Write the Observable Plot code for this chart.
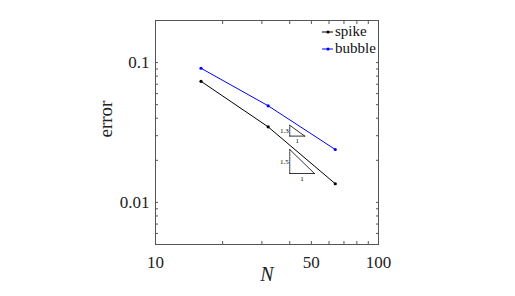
<!DOCTYPE html>
<html><head><meta charset="utf-8">
<script src="https://cdn.jsdelivr.net/npm/d3@7"></script>
<script src="https://cdn.jsdelivr.net/npm/@observablehq/plot@0.6"></script>
<style>
body{margin:0;background:#fff;}
#wrap{position:relative;width:515px;height:296px;}
#legend{position:absolute;left:320px;top:23px;font-family:'Liberation Serif',serif;font-size:15px;line-height:17px;color:#111;}
#legend div{display:flex;align-items:center;height:17px;}
#legend svg{margin-right:1px;}
</style>
</head><body>
<div id="wrap"><div id="legend"></div></div>
<script>
const N = [16, 32, 64];
const spike = [0.0735, 0.0347, 0.0136];
const bubble = [0.0911, 0.0491, 0.0239];
const seriesNames = ["spike", "bubble"];
const seriesColors = ["#000000", "#0000ff"];
const xTicks = [10,20,30,40,50,60,70,80,90,100];
const xLabels = [10, 50, 100];
const yTicks = [0.005,0.006,0.007,0.008,0.009,0.01,0.02,0.03,0.04,0.05,0.06,0.07,0.08,0.09,0.1,0.2];
const yLabels = [0.01, 0.1];
const tri1 = {x0: 40, x1: 46.7, yb: 0.0298, yt: 0.0356, label: "1.3"};
const tri2 = {x0: 40, x1: 51.6, yb: 0.0161, yt: 0.0239, label: "1.5"};

const rows = [];
N.forEach((n,i)=>{rows.push({N:n, err:spike[i], s:"spike"}); rows.push({N:n, err:bubble[i], s:"bubble"});});
const font = "'Liberation Serif', serif";
function triMarks(t){
  const hyp = [{x:t.x0,y:t.yt},{x:t.x1,y:t.yb}];
  const bottom = [{x:t.x0,y:t.yb},{x:t.x1,y:t.yb}];
  const vert = [{x:t.x0,y:t.yb},{x:t.x0,y:t.yt}];
  return [
    Plot.line(hyp,{x:"x",y:"y",stroke:"#000",strokeWidth:0.8}),
    Plot.line(bottom,{x:"x",y:"y",stroke:"#000",strokeWidth:0.8}),
    Plot.line(vert,{x:"x",y:"y",stroke:"#000",strokeWidth:0.8,strokeDasharray:"1.5,1"}),
    Plot.text([t],{x:"x0",y:d=>Math.sqrt(d.yb*d.yt),text:"label",textAnchor:"end",dx:-1,fontSize:7,fontFamily:font,fill:"#000"}),
    Plot.text([t],{x:d=>Math.sqrt(d.x0*d.x1),y:"yb",text:()=>"1",dy:5,fontSize:7,fontFamily:font,fill:"#000"})
  ];
}
const chart = Plot.plot({
  width:515, height:296,
  marginLeft:155, marginRight:137, marginTop:20, marginBottom:52,
  style:{fontFamily:font, background:"#fff"},
  x:{type:"log", domain:[10,100]},
  y:{type:"log", domain:[0.005,0.2]},
  color:{domain:seriesNames, range:seriesColors},
  marks:[
    Plot.axisX({ticks:xTicks, tickSize:-3, tickFormat:()=>"", stroke:"#555", label:null}),
    Plot.axisX({anchor:"top", ticks:xTicks, tickSize:-3, tickFormat:()=>"", stroke:"#555", label:null}),
    Plot.axisY({ticks:yTicks, tickSize:-3, tickFormat:()=>"", stroke:"#555", label:null}),
    Plot.axisY({anchor:"right", ticks:yTicks, tickSize:-3, tickFormat:()=>"", stroke:"#555", label:null}),
    Plot.axisX({ticks:xLabels, tickSize:0, tickPadding:11, tickFormat:d=>String(d), fontSize:17, fontFamily:font, fill:"#222", label:null}),
    Plot.axisY({ticks:yLabels, tickSize:0, tickPadding:6, tickFormat:d=>String(d), fontSize:17, fontFamily:font, fill:"#222", label:null}),
    Plot.frame({stroke:"#555"}),
    Plot.line(rows,{x:"N",y:"err",z:"s",stroke:"s",strokeWidth:1}),
    Plot.dot(rows,{x:"N",y:"err",fill:"s",r:1.6}),
    ...triMarks(tri1),
    ...triMarks(tri2),
    Plot.text(["N"],{frameAnchor:"bottom",dy:36,text:d=>d,fontSize:20,fontStyle:"italic",fontFamily:font,fill:"#222"}),
    Plot.text(["error"],{frameAnchor:"left",dx:-50,dy:5,rotate:-90,text:d=>d,fontSize:19,fontFamily:font,fill:"#222"})
  ]
});
document.getElementById("wrap").prepend(chart);
const leg = document.getElementById("legend");
seriesNames.forEach((s,i)=>{
  const row = document.createElement("div");
  row.innerHTML = `<svg width="14" height="6"><line x1="2" y1="3" x2="13" y2="3" stroke="${seriesColors[i]}" stroke-width="1"/><circle cx="8" cy="3" r="1.6" fill="${seriesColors[i]}"/></svg><span>${s}</span>`;
  leg.appendChild(row);
});
</script>
</body></html>
